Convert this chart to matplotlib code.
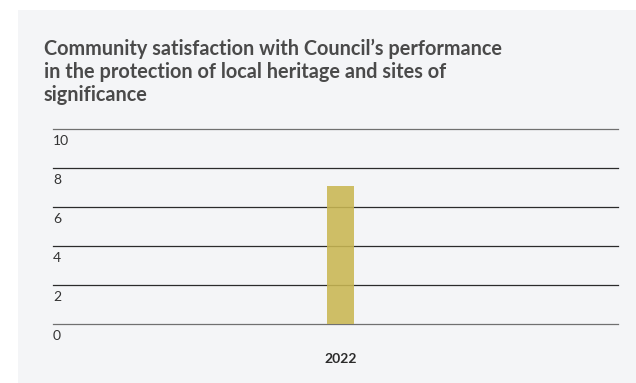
import matplotlib.pyplot as plt
from matplotlib.patches import Rectangle

plt.rcParams['font.family'] = ['Lato', 'DejaVu Sans']

years = ['2022']
scores = [7.1]
yticks = [0, 2, 4, 6, 8, 10]

title = ("Community satisfaction with Council\u2019s performance\n"
         "in the protection of local heritage and sites of\n"
         "significance")

W, H = 636, 383
fig = plt.figure(figsize=(W / 100, H / 100), dpi=100)
fig.patch.set_facecolor('white')

# light grey card behind the chart
card = Rectangle((18 / W, 0), 1 - 18 / W, 1 - 10 / H,
                 transform=fig.transFigure, facecolor='#f4f5f7',
                 edgecolor='none', zorder=-5)
fig.add_artist(card)

fig.text(44 / W, 1 - 39 / H, title, ha='left', va='top', fontsize=14.3,
         fontweight='bold', color='#4a4a4a', linespacing=1.18)

ax = fig.add_axes([53 / W, 1 - 324 / H, 565 / W, 195 / H])
ax.set_zorder(2)
ax.set_facecolor('none')
ax.set_ylim(0, 10)
ax.set_xlim(-0.509, 0.491)

ax.bar(years, scores, width=0.048, color='#c9b752', alpha=0.88, zorder=3)

for y in yticks:
    col = '#707070' if y in (0, 10) else '#2b2b2b'
    ax.axhline(y, color=col, lw=0.9, zorder=2, clip_on=False)
    ax.annotate(str(y), xy=(0, y), xycoords=('axes fraction', 'data'),
                xytext=(0, -4.5), textcoords='offset points', ha='left', va='top',
                fontsize=10, color='#333333')

ax.set_yticks([])
ax.tick_params(axis='x', length=0, pad=21, labelsize=10, labelcolor='#2b2b2b')
for lbl in ax.get_xticklabels():
    lbl.set_fontweight('bold')
for s in ax.spines.values():
    s.set_visible(False)

fig.savefig('out.png', dpi=100)
